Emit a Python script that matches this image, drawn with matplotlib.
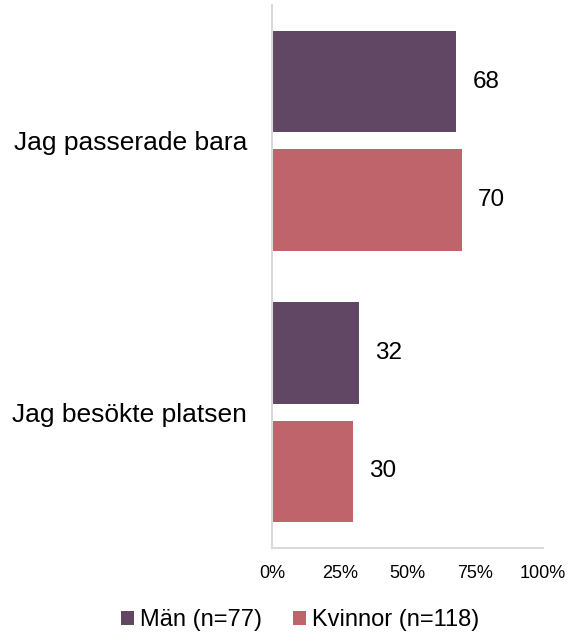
import numpy as np
import matplotlib
matplotlib.use("Agg")
import matplotlib.pyplot as plt

plt.rcParams['font.family'] = ['Liberation Sans', 'DejaVu Sans']

# Data
kategorier = ["Jag passerade bara", "Jag besökte platsen"]
man = [68, 32]
kvinnor = [70, 30]
serie_namn = ["Män (n=77)", "Kvinnor (n=118)"]
farger = ["#614763", "#C0646B"]
xticks = [0, 25, 50, 75, 100]

fig = plt.figure(figsize=(5.71, 6.35), dpi=100)
ax = fig.add_axes([272 / 571, 1 - 548 / 635, 271 / 571, 543 / 635])

pos = np.arange(len(kategorier))
offset = 0.218
hojd = 0.373

for varden, sign, farg, namn in zip([man, kvinnor], [-1, 1], farger, serie_namn):
    bars = ax.barh(pos + sign * offset, varden, height=hojd, color=farg, label=namn)
    for b, v in zip(bars, varden):
        ax.annotate(f"{v}", (b.get_width(), b.get_y() + b.get_height() / 2),
                    xytext=(11.5, 0), textcoords="offset points",
                    ha="left", va="center", fontsize=17.5)

ax.set_xlim(0, 100)
ax.set_ylim(1.5, -0.5)
ax.set_xticks(xticks)
ax.set_xticklabels([f"{t}%" for t in xticks], fontsize=13)
ax.set_yticks(pos)
ax.set_yticklabels(kategorier, fontsize=19)
ax.tick_params(axis="x", length=0, pad=12)
ax.tick_params(axis="y", length=0, pad=18)

for s in ["top", "right"]:
    ax.spines[s].set_visible(False)
for s in ["left", "bottom"]:
    ax.spines[s].set_color("#d9d9d9")
    ax.spines[s].set_linewidth(1.5)

fig.legend(loc="center", bbox_to_anchor=(300 / 571, 1 - 620 / 635), ncol=2,
           frameon=False, fontsize=17, handlelength=0.55, handleheight=0.55,
           handletextpad=0.25, columnspacing=1.3)

fig.savefig("out.png", dpi=100)
